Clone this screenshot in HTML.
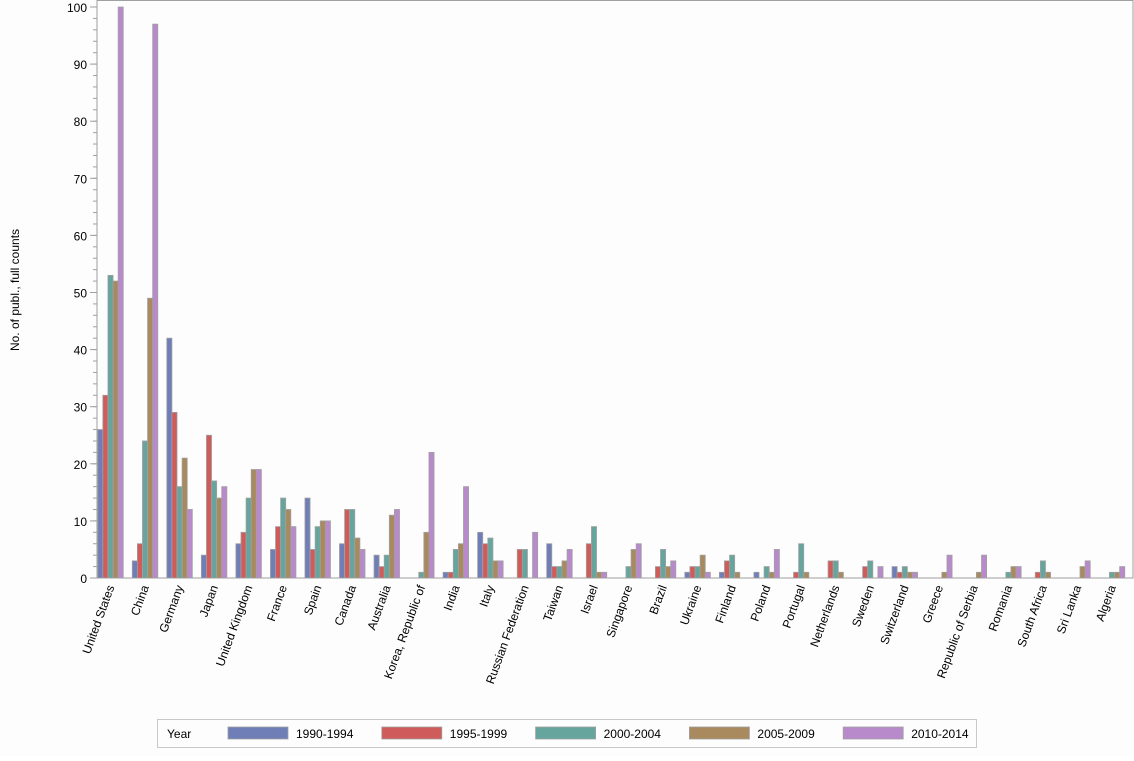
<!DOCTYPE html>
<html><head><meta charset="utf-8"><style>
body{margin:0;background:#fff;font-family:"Liberation Sans",Arial,sans-serif;}
svg text{font-family:"Liberation Sans",Arial,sans-serif;font-size:12px;fill:#000;}
</style></head><body>
<svg id="chart" width="1134" height="756">
<rect x="0" y="0" width="1134" height="756" fill="#fdfdfd"/>
<g id="plot"></g>
</svg>
<script>
const categories=["United States","China","Germany","Japan","United Kingdom","France","Spain","Canada","Australia","Korea, Republic of","India","Italy","Russian Federation","Taiwan","Israel","Singapore","Brazil","Ukraine","Finland","Poland","Portugal","Netherlands","Sweden","Switzerland","Greece","Republic of Serbia","Romania","South Africa","Sri Lanka","Algeria"];
const seriesNames=["1990-1994","1995-1999","2000-2004","2005-2009","2010-2014"];
const s1990=[26,3,42,4,6,5,14,6,4,0,1,8,0,6,0,0,0,1,1,1,0,0,0,2,0,0,0,0,0,0];
const s1995=[32,6,29,25,8,9,5,12,2,0,1,6,5,2,6,0,2,2,3,0,1,3,2,1,0,0,0,1,0,0];
const s2000=[53,24,16,17,14,14,9,12,4,1,5,7,5,2,9,2,5,2,4,2,6,3,3,2,0,0,1,3,0,1];
const s2005=[52,49,21,14,19,12,10,7,11,8,6,3,0,3,1,5,2,4,1,1,1,1,0,1,1,1,2,1,2,1];
const s2010=[100,97,12,16,19,9,10,5,12,22,16,3,8,5,1,6,3,1,0,5,0,0,2,1,4,4,2,0,3,2];
const yTicks=[0,10,20,30,40,50,60,70,80,90,100];
const colors=["#6f7eb6","#d05b5b","#66a59e","#a88a5e","#b88acb"];
const series=[s1990,s1995,s2000,s2005,s2010];
const NS="http://www.w3.org/2000/svg";
const g=document.getElementById('plot');
const L=97,R=1133,T=7,B=578;
const y=v=>B-(v/100)*(B-T);
const xc=i=>110.5+i*(1001.5/29);
const bw=5.1;
function mk(t,a){const e=document.createElementNS(NS,t);for(const k in a)e.setAttribute(k,a[k]);g.appendChild(e);return e;}
// frame
let f=mk('rect',{x:L,y:0.5,width:R-L,height:B-0.5,fill:'none',stroke:'#a0a0a0','stroke-width':1});


// minor ticks
for(let v=0;v<=100;v+=2){let t=mk('line',{x1:L-4,x2:L,y1:y(v),y2:y(v),stroke:'#a0a0a0'});

}
yTicks.forEach(v=>{let t=mk('line',{x1:L-7,x2:L,y1:y(v),y2:y(v),stroke:'#a0a0a0'});


let lb=mk('text',{x:L-10,y:y(v)+5,'text-anchor':'end'});lb.textContent=v;

});
let yt=mk('text',{x:0,y:0,transform:'translate(19,290) rotate(-90)','text-anchor':'middle'});yt.textContent='No. of publ., full counts';


categories.forEach((c,i)=>{
 series.forEach((s,k)=>{const v=s[i];if(v<=0)return;
  let r=mk('rect',{x:xc(i)-2.5*bw+k*bw,y:y(v),width:bw,height:B-y(v),fill:colors[k],stroke:'#a0a0a0','stroke-width':0.8});
  
  });
 let lb=mk('text',{x:0,y:0,transform:`translate(${xc(i)+4},${B+9}) rotate(-70)`,'text-anchor':'end'});lb.textContent=c;
 
 
});
let lgb=mk('rect',{x:157.5,y:719.5,width:819,height:28,fill:'#fdfdfd',stroke:'#c8c8c8'});


let lt=mk('text',{x:167,y:738});lt.textContent='Year';


seriesNames.forEach((n,k)=>{const x0=228+k*153.8;
 let sw=mk('rect',{x:x0,y:727,width:60,height:12,fill:colors[k],stroke:'#a0a0a0','stroke-width':0.8});
 
 
 let tx=mk('text',{x:x0+68,y:738});tx.textContent=n;
 
 });
</script>
</body></html>
